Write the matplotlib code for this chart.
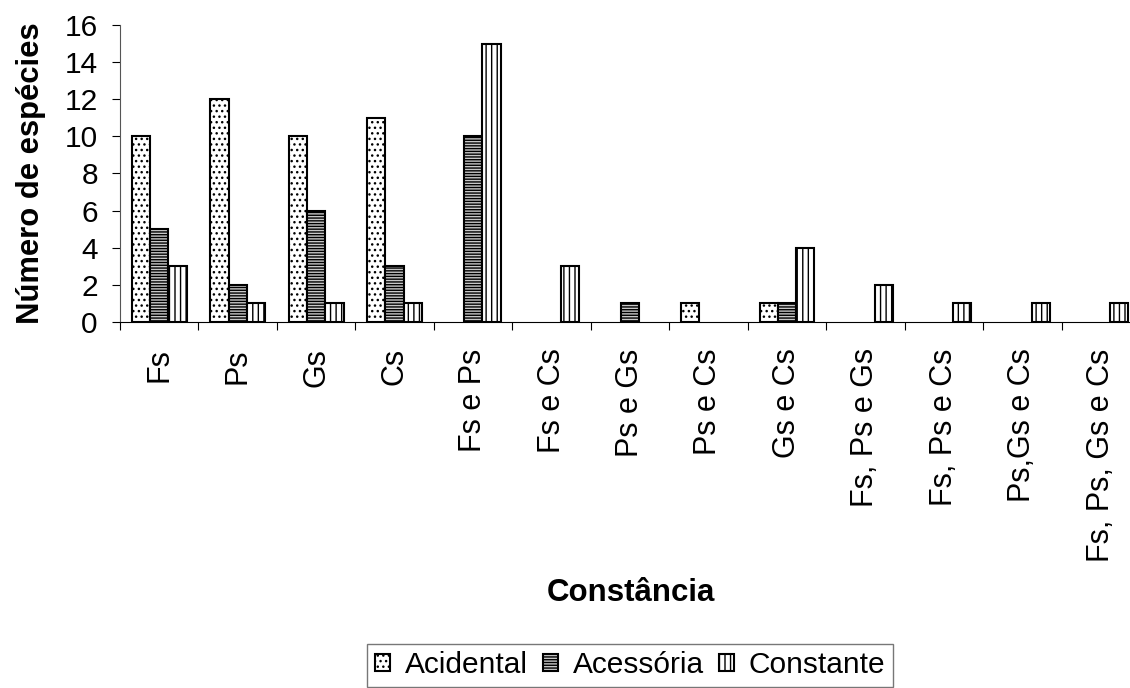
import numpy as np
import matplotlib.pyplot as plt
import matplotlib as mpl

plt.rcParams['font.family'] = ['Liberation Sans', 'DejaVu Sans']
mpl.rcParams['hatch.linewidth'] = 1.0

categorias = ['Fs', 'Ps', 'Gs', 'Cs', 'Fs e Ps', 'Fs e Cs', 'Ps e Gs', 'Ps e Cs',
              'Gs e Cs', 'Fs, Ps e Gs', 'Fs, Ps e Cs', 'Ps,Gs e Cs', 'Fs, Ps, Gs e Cs']
acidental = [10, 12, 10, 11, 0, 0, 0, 1, 1, 0, 0, 0, 0]
acessoria = [5, 2, 6, 3, 10, 0, 1, 0, 1, 0, 0, 0, 0]
constante = [3, 1, 1, 1, 15, 3, 0, 0, 4, 2, 1, 1, 1]

fig = plt.figure(figsize=(11.3, 6.88), dpi=100)
# the plot area runs past the right edge, as in the original
ax = fig.add_axes([0.1062, 0.532, 0.9027, 0.4317])

x = np.arange(len(categorias))
w = 0.233


def barras(vals, off, **kw):
    vals = np.array(vals, dtype=float)
    m = vals > 0
    return ax.bar(x[m] + off, vals[m], w, edgecolor='black', lw=1.5, **kw)


b1 = barras(acidental, -w, color='white', hatch='...', label='Acidental')
b2 = barras(acessoria, 0, color='#c8c8c8', hatch='------', label='Acessória')
b3 = barras(constante, w, color='white', hatch='|||', label='Constante')

ax.set_xlim(-0.5, len(categorias) - 0.5)
ax.set_ylim(0, 16)
ax.set_yticks(range(0, 17, 2))
ax.set_xticks(x - 0.5)
ax.set_xticklabels([])
ax.set_xticks(x, minor=True)
ax.set_xticklabels(categorias, minor=True, rotation=90, fontsize=22)
ax.tick_params(axis='x', which='minor', length=0, pad=19)
ax.tick_params(axis='x', which='major', length=6, direction='out')
ax.tick_params(axis='y', labelsize=21.5, length=6, pad=10)
ax.spines['top'].set_visible(False)
ax.spines['right'].set_visible(False)
ax.spines['left'].set_color('#555555')

ax.set_ylabel('Número de espécies', fontsize=22.3, fontweight='bold')
ax.yaxis.set_label_coords(-0.0725, 0.5)
ax.set_xlabel('Constância', fontsize=22.5, fontweight='bold')
ax.xaxis.set_label_coords(0.501, -0.862)

leg = fig.legend(handles=[b1, b2, b3], loc='upper center', bbox_to_anchor=(0.5575, 0.064), ncol=3,
                 fontsize=21.5, frameon=True, fancybox=False, edgecolor='#555555',
                 handlelength=0.5, handleheight=0.5, handletextpad=0.5, columnspacing=0.5,
                 borderpad=0.25, borderaxespad=0.0)
leg.get_frame().set_linewidth(1.0)

plt.savefig('out.png', dpi=100)
